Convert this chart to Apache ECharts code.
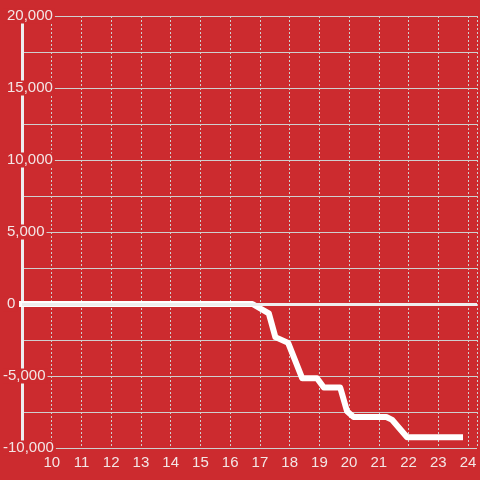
<!DOCTYPE html>
<html>
<head>
<meta charset="utf-8">
<script src="https://cdn.jsdelivr.net/npm/echarts@6/dist/echarts.min.js"></script>
<style>
  html, body { margin: 0; padding: 0; background: #cc2b2f; }
  #chart { width: 480px; height: 480px; }
</style>
</head>
<body>
<div id="chart"></div>
<script>
// x positions (hours) and values of the line
const xs = [8.9, 16.75, 17.3, 17.52, 17.95, 18.42, 18.92, 19.15, 19.7, 19.93, 20.15, 21.25, 21.45, 21.95, 23.83];
const ys = [0, 0, -650, -2300, -2700, -5150, -5150, -5800, -5800, -7450, -7850, -7850, -8050, -9250, -9250];
const yLabels = [-10000, -5000, 0, 5000, 10000, 15000, 20000];

const bg = "#cc2b2f";
const textColor = "#f3e6e6";
const gridColor = "#cfcfcf";

const chart = echarts.init(document.getElementById("chart"));
const option = {
  backgroundColor: bg,
  animation: false,
  textStyle: { fontFamily: "Liberation Sans" },
  grid: { left: 21, right: 0, top: 16, bottom: 32 },
  xAxis: {
    type: "value",
    min: 9,
    max: 24.3,
    interval: 1,
    axisLine: { show: false },
    axisTick: { show: false },
    axisLabel: {
      color: textColor,
      fontSize: 15,
      margin: 7,
      formatter: (v) => (Number.isInteger(v) && v >= 10 ? String(v) : ""),
    },
    splitLine: { lineStyle: { color: gridColor, type: [2, 2], width: 1 } },
  },
  yAxis: [
    {
      type: "value",
      min: -10000,
      max: 20000,
      interval: 2500,
      axisLine: { show: true, lineStyle: { color: "#eeeeee", width: 3 } },
      axisTick: { show: false },
      axisLabel: { show: false },
      splitLine: { lineStyle: { color: gridColor, width: 1 } },
    },
    {
      type: "value",
      position: "left",
      min: -10000,
      max: 20000,
      interval: 2500,
      z: 10,
      axisLine: { show: false },
      axisTick: { show: false },
      splitLine: { show: false },
      axisLabel: {
        color: textColor,
        fontSize: 15,
        align: "left",
        margin: 19,
        backgroundColor: bg,
        padding: [0, 2, 0, 0],
        formatter: (v) => {
          if (!yLabels.includes(v)) return "";
          const s = v.toLocaleString("en-US");
          return v < 0 ? s : "{p|" + s + "}";
        },
        rich: { p: { color: textColor, fontSize: 15, padding: [0, 0, 0, 4] } },
      },
    },
  ],
  series: [
    {
      type: "line",
      yAxisIndex: 0,
      data: xs.map((x, i) => [x, ys[i]]),
      symbol: "none",
      clip: false,
      lineStyle: { color: "#ffffff", width: 6, join: "round" },
      markLine: {
        silent: true,
        symbol: "none",
        label: { show: false },
        lineStyle: { color: "#eeeeee", width: 3, type: "solid" },
        data: [{ yAxis: 0 }],
      },
    },
  ],
};
chart.setOption(option);
</script>
</body>
</html>
